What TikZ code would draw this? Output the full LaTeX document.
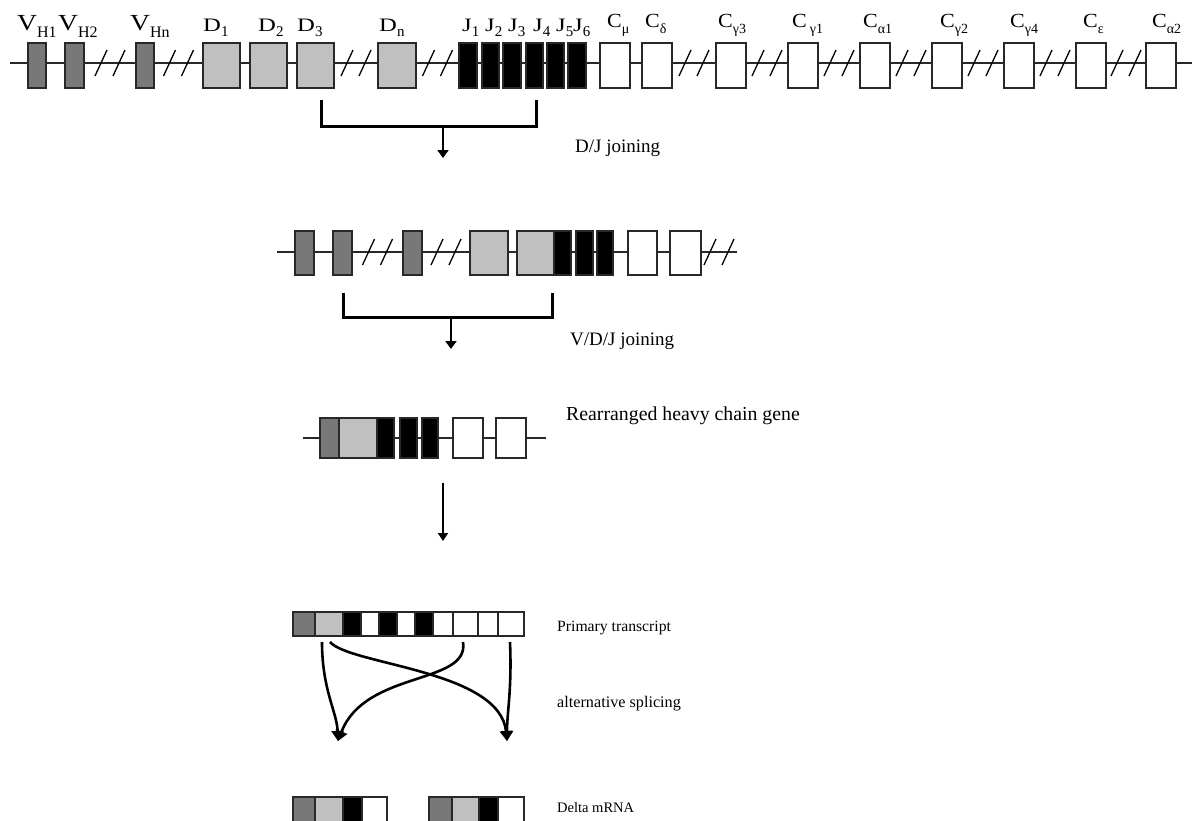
\documentclass[tikz,border=0pt]{standalone}
\usepackage{fontspec}
\setmainfont{Liberation Serif}
\usetikzlibrary{arrows.meta}
\definecolor{vgray}{RGB}{120,120,120}
\definecolor{dgray}{RGB}{192,192,192}
\definecolor{edge}{RGB}{40,40,40}
\tikzset{
  seg/.style={draw=edge, line width=1.4pt},
  gline/.style={draw=edge, line width=1.3pt},
  hatchline/.style={draw=black, line width=1.3pt},
  bracket/.style={draw=black, line width=3pt},
  splice/.style={draw=black, line width=2.6pt, -{Triangle[width=12pt,length=10pt]}},
  downarrow/.style={draw=black, line width=2.6pt, -{Triangle[width=11pt,length=8pt]}},
  thinarrow/.style={draw=black, line width=2pt, -{Triangle[width=10pt,length=8pt]}},
  lab/.style={anchor=base west, inner sep=0pt},
  note/.style={anchor=base west, inner sep=0pt},
}
\newcommand\gbox[5]{\path[seg, fill=#5] (#1,#3) rectangle (#2,#4);}
\newcommand\hatchpair[2]{%
  \draw[hatchline] ({#1-15},{#2+13}) -- ({#1-3},{#2-13});
  \draw[hatchline] ({#1+3},{#2+13}) -- ({#1+15},{#2-13});}
\newcommand\Vl[1]{\scalebox{1.2}[1]{\fontsize{23}{23}\selectfont V}\raisebox{-7pt}{\fontsize{16}{16}\selectfont #1}}
\newcommand\Dl[2]{\scalebox{1.3}[1]{\fontsize{19}{19}\selectfont #1}\raisebox{-5pt}{\fontsize{15}{15}\selectfont #2}}
\newcommand\Cl[1]{\scalebox{1.1}[1]{\fontsize{20}{20}\selectfont C}\raisebox{-6pt}{\fontsize{14}{14}\selectfont #1}}
\begin{document}
\begin{tikzpicture}[x=1pt,y=-1pt]
\useasboundingbox (0,0) rectangle (1192,820);
\fill[white] (0,0) rectangle (1192,820);
\begin{scope}
\clip (0,0) rectangle (1192,820);
% ---------- germline row ----------
\draw[gline] (10,63) -- (1192,63);
\foreach \a/\b in {28/46,65/84,136/154} {\gbox{\a}{\b}{43}{88}{vgray}}
\foreach \a/\b in {203/240,250/287,297/334,378/416} {\gbox{\a}{\b}{43}{88}{dgray}}
\foreach \a/\b in {459/477,482/499,503/521,526/543,547/564,568/586} {\gbox{\a}{\b}{43}{88}{black}}
\foreach \a in {600,642,716,788,860,932,1004,1076,1146} {\gbox{\a}{\a+30}{43}{88}{white}}
\foreach \c in {110,178.5,356,437.5,694,767,839,911,983,1055,1126} {\hatchpair{\c}{63}}
% labels
\node[lab] (lvh1) at (17,30) {\Vl{H1}};
\node[lab] (lvh2) at (58,30) {\Vl{H2}};
\node[lab] (lvhn) at (130,30) {\Vl{Hn}};
\node[lab] (ld1) at (203,31) {\Dl{D}{1}};
\node[lab] (ld2) at (258,31) {\Dl{D}{2}};
\node[lab] (ld3) at (297,31) {\Dl{D}{3}};
\node[lab] (ldn) at (379,31) {\Dl{D}{n}};
\node[lab] (lj1) at (462,31) {\Dl{J}{1}};
\node[lab] (lj2) at (485,31) {\Dl{J}{2}};
\node[lab] (lj3) at (508,31) {\Dl{J}{3}};
\node[lab] (lj4) at (533,31) {\Dl{J}{4}};
\node[lab] (lj5) at (556,31) {\Dl{J}{5}};
\node[lab] (lj6) at (573,31) {\Dl{J}{6}};
\node[lab] (lcm) at (607,27) {\Cl{μ}};
\node[lab] (lcd) at (645,27) {\Cl{δ}};
\node[lab] (lcg3) at (718,27) {\Cl{γ3}};
\node[lab] (lcg1) at (792,27) {\Cl{\hspace{3pt}γ1}};
\node[lab] (lca1) at (863,27) {\Cl{α1}};
\node[lab] (lcg2) at (940,27) {\Cl{γ2}};
\node[lab] (lcg4) at (1010,27) {\Cl{γ4}};
\node[lab] (lce) at (1083,27) {\Cl{ε}};
\node[lab] (lca2) at (1152,27) {\Cl{α2}};
% ---------- D/J joining ----------
\coordinate (b1l) at (321,100);
\coordinate (b1r) at (536,100);
\coordinate (b1m) at (443,126);
\coordinate (b1t) at (443,158);
\draw[bracket] (b1l) |- (b1m) -| (b1r);
\draw[downarrow] (b1m) -- (b1t);
\node[note, font=\fontsize{19}{19}\selectfont] (tdj) at (575,152) {D/J joining};
% ---------- DJ rearranged row ----------
\draw[gline] (277,252) -- (737,252);
\foreach \a/\b in {295/314,333/352,403/422} {\gbox{\a}{\b}{231}{275}{vgray}}
\foreach \a/\b in {470/508,517/554} {\gbox{\a}{\b}{231}{275}{dgray}}
\foreach \a/\b in {554/571,576/593,597/613} {\gbox{\a}{\b}{231}{275}{black}}
\foreach \a/\b in {628/657,670/701} {\gbox{\a}{\b}{231}{275}{white}}
\foreach \c in {377.5,446,719} {\hatchpair{\c}{252}}
% ---------- V/D/J joining ----------
\coordinate (b2l) at (343,293);
\coordinate (b2r) at (552,293);
\coordinate (b2m) at (451,317);
\coordinate (b2t) at (451,349);
\draw[bracket] (b2l) |- (b2m) -| (b2r);
\draw[downarrow] (b2m) -- (b2t);
\node[note, font=\fontsize{19}{19}\selectfont] (tvdj) at (570,345) {V/D/J joining};
% ---------- rearranged gene ----------
\draw[gline] (303,438) -- (546,438);
\gbox{320}{339}{418}{458}{vgray}
\gbox{339}{377}{418}{458}{dgray}
\foreach \a/\b in {377/394,400/417,422/438} {\gbox{\a}{\b}{418}{458}{black}}
\foreach \a/\b in {453/483,496/526} {\gbox{\a}{\b}{418}{458}{white}}
\node[note, font=\fontsize{19.8}{19.8}\selectfont] (trh) at (566,420) {Rearranged heavy chain gene};
\coordinate (a3s) at (443,483);
\coordinate (a3t) at (443,541);
\draw[thinarrow] (a3s) -- (a3t);
% ---------- primary transcript ----------
\foreach \a/\b/\c in {293/315/vgray,315/343/dgray,343/361/black,361/379/white,379/397/black,397/415/white,415/433/black,433/453/white,453/478/white,478/498/white,498/524/white} {\gbox{\a}{\b}{612}{636}{\c}}
\node[note, font=\fontsize{15.7}{15.7}\selectfont] (tpt) at (557,631) {Primary transcript};
\coordinate (sA) at (322,642);
\coordinate (sB) at (330,642);
\coordinate (sC) at (463,642);
\coordinate (sD) at (510,642);
\coordinate (tL) at (338,741);
\coordinate (tR) at (507,741);
\draw[splice] (sA) .. controls (322,690) and (337,712) .. (tL);
\draw[splice] (sB) .. controls (350,665) and (500,670) .. (tR);
\draw[splice] (sC) .. controls (470,685) and (365,670) .. (tL);
\draw[splice] (sD) .. controls (512,690) and (507,712) .. (tR);
\node[note, font=\fontsize{16.2}{16.2}\selectfont] (tas) at (557,707) {alternative splicing};
% ---------- delta mRNA ----------
\foreach \a/\b/\c in {293/315/vgray,315/343/dgray,343/362/black,362/387/white,429/452/vgray,452/479/dgray,479/498/black,498/524/white} {\gbox{\a}{\b}{797}{840}{\c}}
\node[note, font=\fontsize{14.5}{14.5}\selectfont] (tdm) at (557,812) {Delta mRNA};
\end{scope}
\end{tikzpicture}
\end{document}
